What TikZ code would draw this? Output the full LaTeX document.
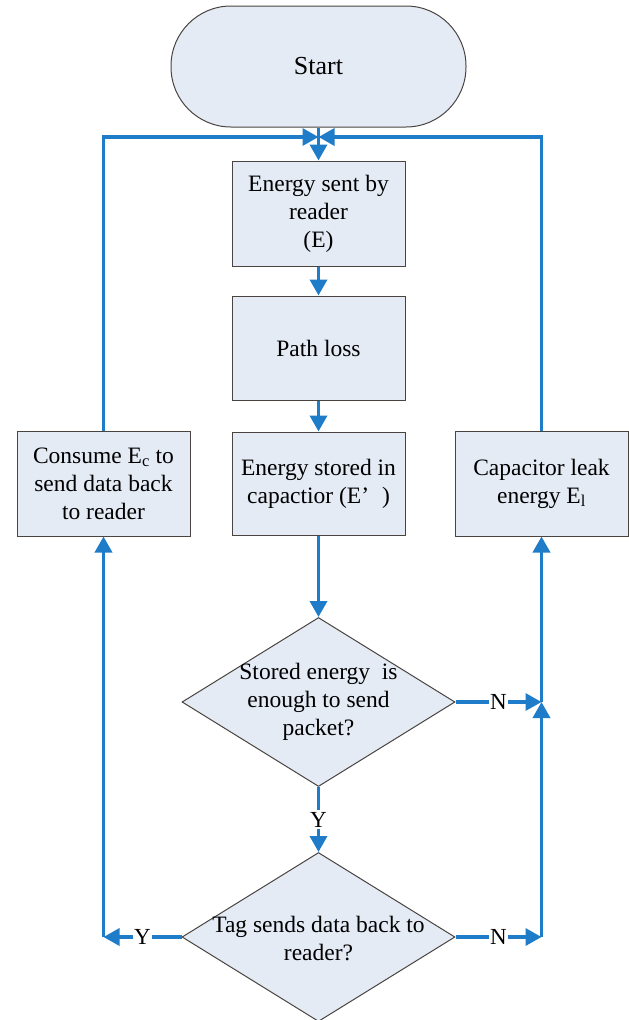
\documentclass[tikz,border=0pt]{standalone}
\usepackage{fontspec}
\setmainfont{Liberation Serif}
\newfontfamily\timesfont{Liberation Serif}
\usetikzlibrary{shapes.geometric,arrows.meta}
\definecolor{flowblue}{HTML}{1E7CC8}
\definecolor{boxfill}{HTML}{E4EBF5}
\definecolor{boxedge}{HTML}{4A4440}
\begin{document}
\begin{tikzpicture}[x=1pt,y=-1pt,
  txt/.style={font=\timesfont\fontsize{23.5}{28}\selectfont, align=center, inner sep=0pt},
  box/.style={txt, draw=boxedge, line width=1pt, fill=boxfill, minimum width=173pt, minimum height=105pt},
  startbox/.style={draw=boxedge, line width=1pt, fill=boxfill, rounded corners=60pt, minimum width=295pt, minimum height=121pt, inner sep=0pt, font=\timesfont\fontsize{26}{30}\selectfont},
  dia/.style={diamond, draw=boxedge, line width=1pt, fill=boxfill, aspect=1.615, minimum width=273pt, minimum height=169pt, inner sep=0pt},
  flow/.style={draw=flowblue, line width=3.5pt, -{Triangle[length=16pt,width=17pt]}},
  lab/.style={fill=white, inner sep=1.5pt, font=\timesfont\fontsize{23}{28}\selectfont}
]
\useasboundingbox (0,0) rectangle (629,1020);

\node[startbox] (start) at (318.5,66.5) {Start};
\node[box] (b1) at (318.5,213.5) {Energy sent by\\reader\\(E)};
\node[box, minimum height=104pt] (b2) at (318.5,348) {Path loss};
\node[box, minimum height=103pt] (b3) at (318.5,483.5) {Energy stored in\\capactior (E’\hspace{0.55em})};
\node[box] (left) at (103.5,483.5) {Consume E\textsubscript{c} to\\send data back\\to reader};
\node[box] (right) at (541.5,483.5) {Capacitor leak\\energy E\textsubscript{l}};

\node[dia] (d1) at (318.5,702) {};
\node[txt] (d1t) at (318.5,702) {Stored energy\ \ is\\enough to send\\packet?};
\node[dia] (d2) at (318.5,937) {};
\node[txt] (d2t) at (318.5,939) {Tag sends data back to\\reader?};

\coordinate (top) at (318.5,137);
\coordinate (j1) at (right.south |- d1.east);
\coordinate (cr) at (right.south |- d2.east);
\coordinate (cl) at (left.south |- d2.west);

\draw[flow] (start) -- (b1);
\draw[flow] (b1) -- (b2);
\draw[flow] (b2) -- (b3);
\draw[flow] (b3) -- (d1);
\draw[flow] (d1) -- node[lab] {Y} (d2);
\draw[flow] (left.north) |- (top);
\draw[flow] (right.north) |- (top);
\draw[flow] (d1.east) -- node[lab] {N} (j1);
\draw[flow] (d2.east) -- node[lab] {N} (cr);
\draw[flow] (cr) -- (j1);
\draw[flow] (j1) -- (right.south);
\draw[flow] (d2.west) -- node[lab] {Y} (cl);
\draw[flow] (cl) -- (left.south);
\end{tikzpicture}
\end{document}
